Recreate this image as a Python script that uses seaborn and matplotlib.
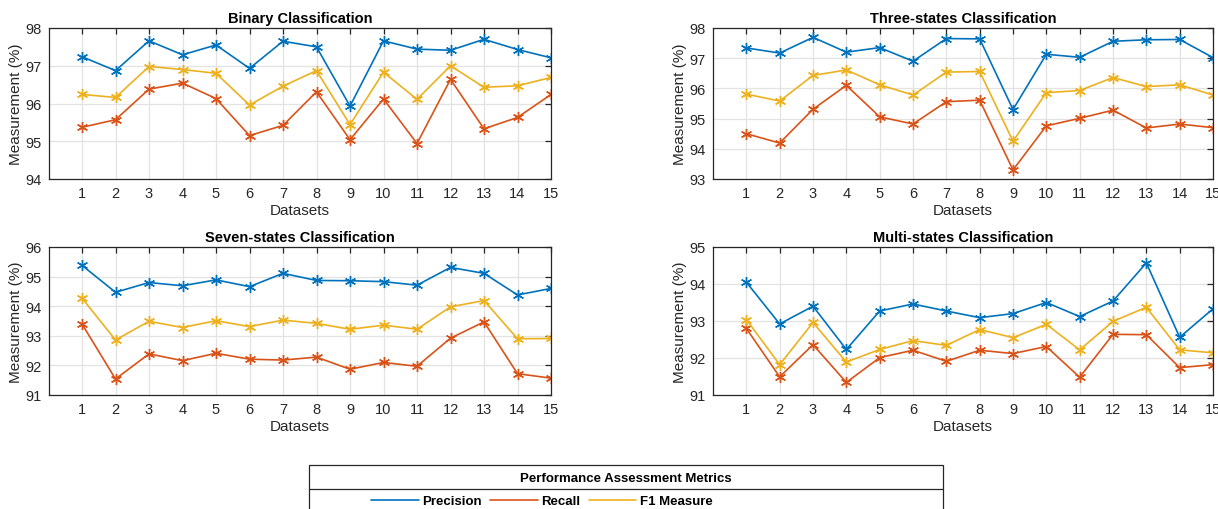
import matplotlib
matplotlib.use("Agg")
import matplotlib.pyplot as plt
import numpy as np
import pandas as pd
import seaborn as sns
from matplotlib.lines import Line2D
from matplotlib.patches import Rectangle

# ---------------- data ----------------
datasets = list(range(1, 16))
metrics = ["Precision", "Recall", "F1 Measure"]
colors = ["#0072BD", "#D95319", "#EDB120"]

binary_precision = [97.24, 96.87, 97.66, 97.29, 97.55, 96.93, 97.65, 97.50, 95.93, 97.66, 97.44, 97.41, 97.70, 97.43, 97.21]
binary_recall    = [95.37, 95.57, 96.38, 96.54, 96.13, 95.15, 95.42, 96.31, 95.04, 96.12, 94.94, 96.64, 95.33, 95.63, 96.24]
binary_f1        = [96.24, 96.16, 96.98, 96.90, 96.80, 95.96, 96.46, 96.87, 95.44, 96.83, 96.11, 97.00, 96.43, 96.47, 96.69]

three_precision = [97.34, 97.17, 97.69, 97.20, 97.35, 96.90, 97.65, 97.64, 95.30, 97.13, 97.03, 97.56, 97.61, 97.62, 97.02]
three_recall    = [94.50, 94.19, 95.31, 96.10, 95.06, 94.82, 95.56, 95.61, 93.30, 94.76, 95.01, 95.28, 94.69, 94.82, 94.70]
three_f1        = [95.81, 95.58, 96.43, 96.61, 96.12, 95.78, 96.54, 96.56, 94.25, 95.86, 95.93, 96.36, 96.06, 96.12, 95.78]

seven_precision = [95.38, 94.47, 94.80, 94.69, 94.89, 94.66, 95.11, 94.87, 94.86, 94.83, 94.71, 95.31, 95.11, 94.38, 94.60]
seven_recall    = [93.40, 91.54, 92.39, 92.16, 92.41, 92.21, 92.18, 92.28, 91.87, 92.10, 91.97, 92.92, 93.47, 91.72, 91.57]
seven_f1        = [94.27, 92.86, 93.49, 93.28, 93.51, 93.31, 93.53, 93.42, 93.22, 93.36, 93.22, 93.98, 94.19, 92.90, 92.91]

multi_precision = [94.05, 92.92, 93.40, 92.23, 93.27, 93.46, 93.27, 93.09, 93.20, 93.50, 93.12, 93.54, 94.57, 92.56, 93.33]
multi_recall    = [92.80, 91.49, 92.36, 91.34, 92.01, 92.21, 91.91, 92.21, 92.12, 92.31, 91.48, 92.64, 92.63, 91.74, 91.82]
multi_f1        = [93.04, 91.82, 92.96, 91.89, 92.23, 92.47, 92.34, 92.77, 92.55, 92.91, 92.22, 92.99, 93.37, 92.22, 92.14]

titles = ["Binary Classification", "Three-states Classification",
          "Seven-states Classification", "Multi-states Classification"]
ylims = [(94, 98), (93, 98), (91, 96), (91, 95)]
legend_title = "Performance Assessment Metrics"

series = [
    [binary_precision, binary_recall, binary_f1],
    [three_precision, three_recall, three_f1],
    [seven_precision, seven_recall, seven_f1],
    [multi_precision, multi_recall, multi_f1],
]

# ---------------- style ----------------
sns.set_theme(style="white")
plt.rcParams["font.family"] = ["Liberation Sans", "DejaVu Sans"]
plt.rcParams["axes.edgecolor"] = "#262626"
plt.rcParams["xtick.color"] = "#262626"
plt.rcParams["ytick.color"] = "#262626"
plt.rcParams["text.color"] = "#262626"
plt.rcParams["axes.labelcolor"] = "#262626"

W, H = 1218, 510
fig = plt.figure(figsize=(W / 100, H / 100), dpi=100)

# axes rectangles (pixels: left, right, top, bottom)
boxes = [
    (48.5, 551, 29, 180),
    (713, 1213, 29, 180),
    (48.5, 551, 248, 396),
    (713, 1213, 248, 396),
]

for (l, r, t, b), title, ylim, ser in zip(boxes, titles, ylims, series):
    ax = fig.add_axes([l / W, 1 - b / H, (r - l) / W, (b - t) / H])
    for vals, c, m in zip(ser, colors, metrics):
        df = pd.DataFrame({"Datasets": datasets, "Value": vals})
        sns.lineplot(data=df, x="Datasets", y="Value", ax=ax, color=c,
                     marker=(6, 2, 0), markersize=8, markeredgecolor=c,
                     markeredgewidth=1.0, linewidth=1.2, legend=False)
    ax.set_xlim(0, 15)
    ax.set_ylim(*ylim)
    ax.set_xticks(datasets)
    ax.set_yticks(np.arange(ylim[0], ylim[1] + 1))
    ax.grid(True, color="#e3e3e3", linewidth=0.9)
    ax.set_axisbelow(True)
    ax.tick_params(direction="in", top=True, right=True, length=4.5,
                   width=0.9, labelsize=10.5, pad=5)
    for s in ax.spines.values():
        s.set_linewidth(0.9)
        s.set_color("#262626")
    ax.set_title(title, fontsize=10.5, fontweight="bold", pad=4, color="black")
    ax.set_xlabel("Datasets", fontsize=11, labelpad=2)
    ax.set_ylabel("Measurement (%)", fontsize=11, labelpad=2)

# ---------------- legend ----------------
bx0, bx1, by_top, by_sep = 309, 943, 466, 490
fig.add_artist(Rectangle((bx0 / W, -0.02), (bx1 - bx0) / W, (1 - by_top / H) + 0.02,
                         transform=fig.transFigure, facecolor="white",
                         edgecolor="#262626", linewidth=0.9))
fig.add_artist(Line2D([bx0 / W, bx1 / W], [1 - by_sep / H, 1 - by_sep / H],
                      transform=fig.transFigure, color="#262626", linewidth=0.9))
fig.text((bx0 + bx1) / 2 / W, 1 - 479 / H, legend_title, ha="center", va="center",
         fontsize=9.5, fontweight="bold", color="black")
handles = [Line2D([], [], color=c, linewidth=1.2) for c in colors]
leg = fig.legend(handles, metrics, loc="center", bbox_to_anchor=(542 / W, 1 - 502 / H),
                 ncol=3, frameon=False, handlelength=3.6, handletextpad=0.3,
                 columnspacing=0.6, prop={"weight": "bold", "size": 9.5})
for txt in leg.get_texts():
    txt.set_color("black")

fig.savefig("out.png", dpi=100)
